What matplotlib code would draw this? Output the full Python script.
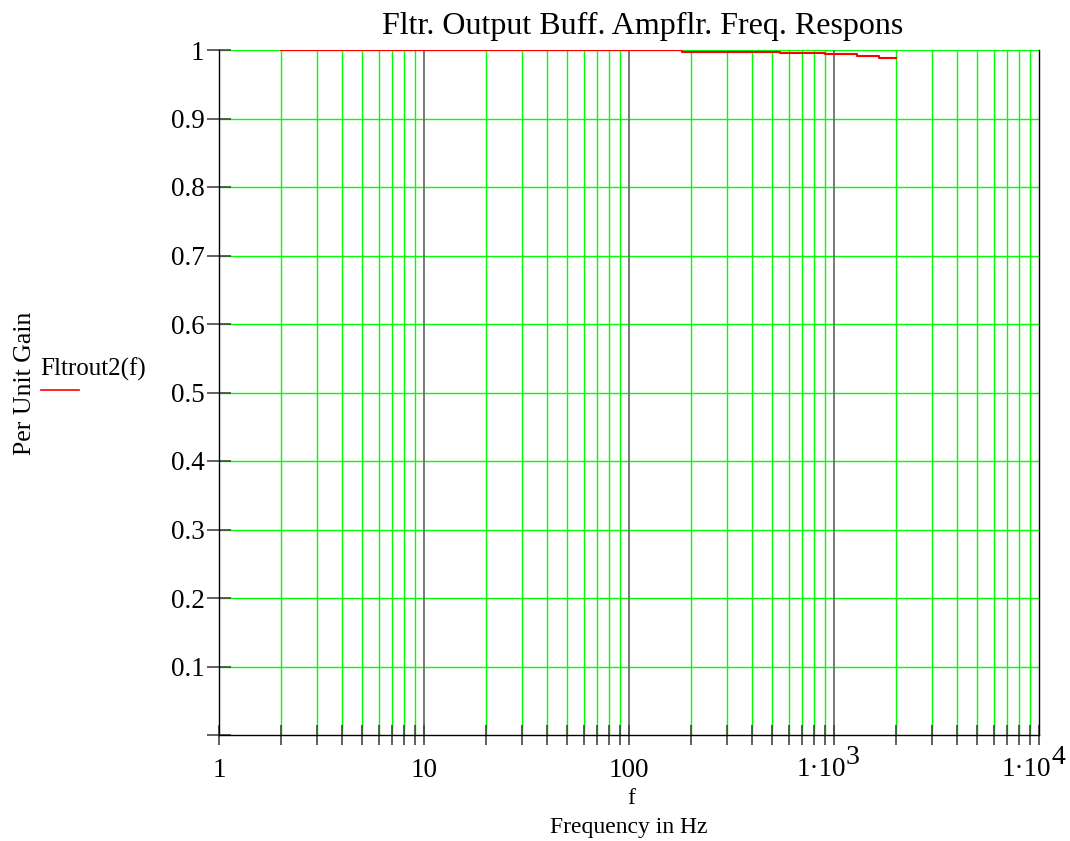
import matplotlib
matplotlib.use("Agg")
import matplotlib.pyplot as plt
import numpy as np

# Data
freq_hz = [2, 181, 545, 904, 1295, 1659, 2000]
gain_pu = [1.0, 0.997, 0.995, 0.9935, 0.991, 0.988, 0.988]

y_ticks = [0.1, 0.2, 0.3, 0.4, 0.5, 0.6, 0.7, 0.8, 0.9, 1.0]
y_tick_labels = ["0.1", "0.2", "0.3", "0.4", "0.5", "0.6", "0.7", "0.8", "0.9", "1"]
x_ticks = [1, 10, 100, 1000, 10000]
x_tick_labels = ["1", "10", "100", "", ""]
x_sci_ticks = [1000, 10000]
x_sci_base = ["1·10", "1·10"]
x_sci_exp = ["3", "4"]

plt.rcParams['font.family'] = ['Liberation Serif', 'DejaVu Serif']

fig = plt.figure(figsize=(10.70, 8.41), dpi=100)
W, H = 1070, 841
ax = fig.add_axes([219 / W, (H - 735) / H, (1039 - 219) / W, (735 - 50) / H])
ax.set_xscale('log')
ax.set_xlim(1, 10000)
ax.set_ylim(0, 1)

green = '#00ff00'
gray = '#6e6e6e'
minor = [dec * m for dec in [1, 10, 100, 1000] for m in range(2, 10)]
for xv in minor:
    ax.axvline(xv, color=green, lw=1.0, zorder=1)
for d in [10, 100, 1000]:
    ax.axvline(d, color=gray, lw=1.3, zorder=1.5)
for yv in y_ticks:
    ax.axhline(yv, color=green, lw=1.0, zorder=1)

ax.plot(freq_hz, gain_pu, color='#ff0000', lw=1.5, drawstyle='steps-post', zorder=3)

for s in ['left', 'bottom', 'right']:
    ax.spines[s].set_color('black')
    ax.spines[s].set_linewidth(1.0)
ax.spines['top'].set_visible(False)

ax.set_yticks([0.0] + y_ticks)
ax.set_yticklabels([""] + y_tick_labels)
ax.set_xticks(x_ticks)
ax.set_xticklabels(x_tick_labels)
ax.set_xticks(minor, minor=True)
ax.set_xticklabels([], minor=True)
ax.tick_params(axis='x', which='both', direction='inout', length=15, width=1.2,
               color='#444444', labelsize=19.5, pad=9)
ax.tick_params(axis='y', which='both', direction='inout', length=17, width=1.2,
               color='#444444', labelsize=19.5, pad=2)

for xv, b, e in zip(x_sci_ticks, x_sci_base, x_sci_exp):
    ax.annotate(b, xy=(xv, 0), xycoords=('data', 'axes fraction'),
                xytext=(12, -34), textcoords='offset pixels',
                ha='right', va='center', fontsize=19.5, annotation_clip=False)
    ax.annotate(e, xy=(xv, 0), xycoords=('data', 'axes fraction'),
                xytext=(12, -23), textcoords='offset pixels',
                ha='left', va='center', fontsize=20, annotation_clip=False)

fig.text(643 / W, 1 - 26 / H, "Fltr. Output Buff. Ampflr. Freq. Respons",
         ha='center', va='center', fontsize=23)
fig.text(631 / W, 1 - 799 / H, "f", ha='center', va='center', fontsize=17)
fig.text(629 / W, 1 - 828 / H, "Frequency in Hz", ha='center', va='center', fontsize=17)
fig.text(25 / W, 1 - 383 / H, "Per Unit Gain", ha='center', va='center',
         rotation=90, fontsize=18.5)
fig.text(40 / W, 1 - 369 / H, "Fltrout2(f)", ha='left', va='center', fontsize=18)
fig.add_artist(plt.Line2D([41 / W, 79 / W], [1 - 390 / H, 1 - 390 / H],
                          color='#ff0000', lw=1.2, transform=fig.transFigure))

fig.savefig('out.png', dpi=100)
